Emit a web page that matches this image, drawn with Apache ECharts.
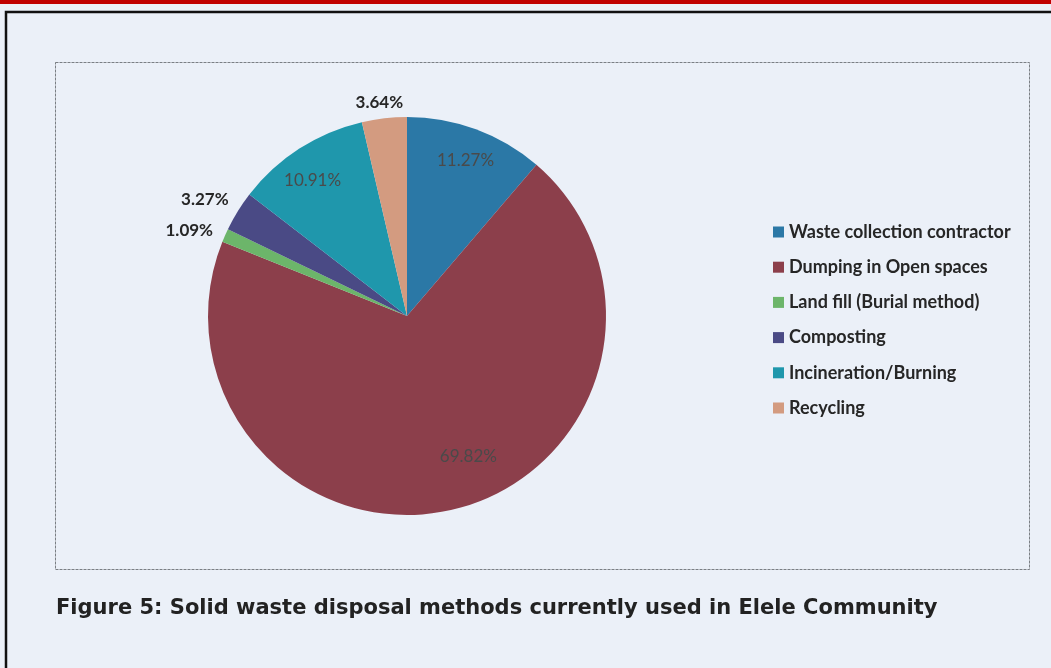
<!DOCTYPE html>
<html>
<head>
<meta charset="utf-8">
<script src="https://cdn.jsdelivr.net/npm/echarts@6/dist/echarts.min.js"></script>
<style>
html,body{margin:0;padding:0;background:#ebf0f8;}
#chart{width:1051px;height:668px;}
</style>
</head>
<body>
<div id="chart"></div>
<script>
const categories = ["Waste collection contractor", "Dumping in Open spaces", "Land fill (Burial method)", "Composting", "Incineration/Burning", "Recycling"];
const values = [11.27, 69.82, 1.09, 3.27, 10.91, 3.64];
const colors = ["#2b78a6", "#8c3f4b", "#6cb56a", "#4a4a85", "#1f97ac", "#d39b80"];
const labelOffsets = [[23, -59], [37, 41], [-124, -44], [-115, -63], [-39, -49], [-16, -112]];
const insideLabel = [true, true, false, false, true, false];
const caption = "Figure 5: Solid waste disposal methods currently used in Elele Community";

const chart = echarts.init(document.getElementById('chart'), null, {renderer: 'canvas'});
const data = categories.map((c, i) => ({
  name: c,
  value: values[i],
  itemStyle: {color: colors[i]},
  label: {
    offset: labelOffsets[i],
    color: insideLabel[i] ? '#4a4a4a' : '#262626',
    fontWeight: insideLabel[i] ? 'normal' : 'bold'
  }
}));

chart.setOption({
  backgroundColor: '#ebf0f8',
  animation: false,
  graphic: [
    {type: 'rect', shape: {x: 0, y: 0, width: 1051, height: 4}, style: {fill: '#c00000'}, silent: true},
    {type: 'polyline', shape: {points: [[6, 668], [6, 12], [1051, 12]]}, style: {stroke: '#111', lineWidth: 2.5, fill: null}, silent: true},
    {type: 'rect', shape: {x: 55.5, y: 62.5, width: 974, height: 507}, style: {stroke: '#7a7f84', lineWidth: 1, fill: null, lineDash: [3, 1]}, silent: true},
    {type: 'text', left: 56, top: 598, style: {text: caption, font: "bold 21px 'DejaVu Sans'", fill: '#222'}, silent: true}
  ],
  legend: {
    orient: 'vertical',
    left: 768,
    top: 218,
    itemWidth: 11,
    itemHeight: 11,
    itemGap: 17.2,
    icon: 'rect',
    selectedMode: false,
    textStyle: {fontFamily: 'Lato', fontWeight: 'bold', fontSize: 18, lineHeight: 18, color: '#262626'},
    data: categories
  },
  series: [{
    type: 'pie',
    center: [407, 316],
    radius: 199,
    startAngle: 90,
    clockwise: true,
    avoidLabelOverlap: false,
    label: {
      show: true,
      position: 'inside',
      formatter: p => p.value.toFixed(2) + '%',
      fontFamily: 'Lato',
      fontSize: 17
    },
    labelLine: {show: false},
    itemStyle: {borderWidth: 0},
    emphasis: {disabled: true},
    data: data
  }]
});
</script>
</body>
</html>
